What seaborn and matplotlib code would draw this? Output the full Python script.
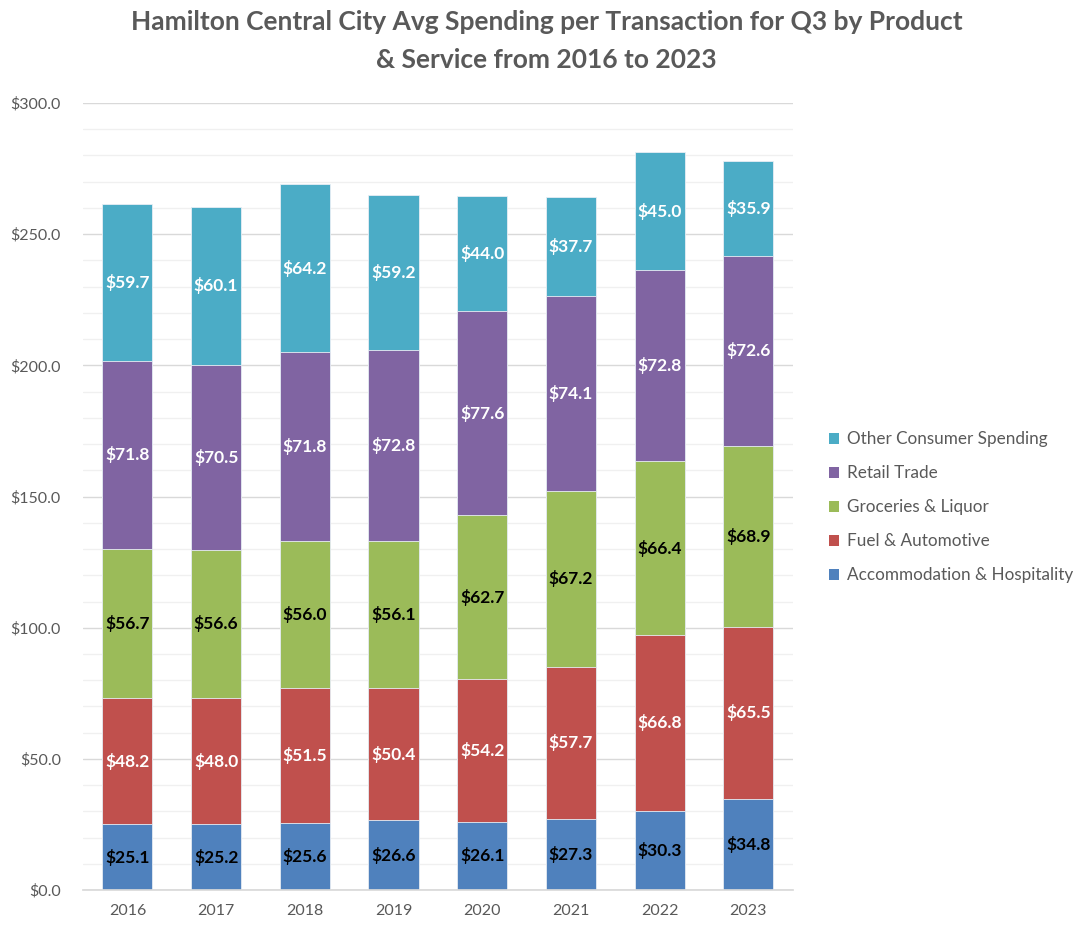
import matplotlib
matplotlib.use("Agg")
import matplotlib.pyplot as plt
from matplotlib.ticker import MultipleLocator, FuncFormatter
from matplotlib.patches import Patch
import seaborn as sns
import pandas as pd
import numpy as np

years = ["2016", "2017", "2018", "2019", "2020", "2021", "2022", "2023"]
categories = ["Accommodation & Hospitality", "Fuel & Automotive", "Groceries & Liquor",
              "Retail Trade", "Other Consumer Spending"]
accommodation = [25.1, 25.2, 25.6, 26.6, 26.1, 27.3, 30.3, 34.8]
fuel = [48.2, 48.0, 51.5, 50.4, 54.2, 57.7, 66.8, 65.5]
groceries = [56.7, 56.6, 56.0, 56.1, 62.7, 67.2, 66.4, 68.9]
retail = [71.8, 70.5, 71.8, 72.8, 77.6, 74.1, 72.8, 72.6]
other = [59.7, 60.1, 64.2, 59.2, 44.0, 37.7, 45.0, 35.9]

colors = ["#4F81BD", "#C0504D", "#9BBB59", "#8064A2", "#4BACC6"]
label_colors = ["black", "white", "black", "white", "white"]

series = [accommodation, fuel, groceries, retail, other]
df = pd.DataFrame({c: v for c, v in zip(categories, series)}, index=years)
cum = df.cumsum(axis=1)

sns.set_theme(style="white")
plt.rcParams["font.family"] = ["Lato", "DejaVu Sans"]

fig = plt.figure(figsize=(10.8, 9.36), dpi=100)
ax = fig.add_axes([0.0769, 0.049, 0.657, 0.841])

# grid
ax.yaxis.set_major_locator(MultipleLocator(50))
ax.yaxis.set_minor_locator(MultipleLocator(10))
ax.grid(which="minor", axis="y", color="#F0F0F0", linewidth=1.0)
ax.grid(which="major", axis="y", color="#D9D9D9", linewidth=1.0)
ax.set_axisbelow(True)

# stacked bars: draw cumulative totals from top category down
for i in range(len(categories) - 1, -1, -1):
    cat = categories[i]
    d = pd.DataFrame({"year": years, "value": cum[cat].values})
    sns.barplot(data=d, x="year", y="value", color=colors[i], saturation=1,
                width=0.565, linewidth=0.6, edgecolor="#E8EEF5", ax=ax, zorder=2)

# data labels
for i, cat in enumerate(categories):
    bottoms = (cum[cat] - df[cat]).values
    for j, v in enumerate(df[cat].values):
        ax.text(j, bottoms[j] + v / 2, f"${v:.1f}", ha="center", va="center",
                color=label_colors[i], fontsize=12.5, fontweight="bold", zorder=5)

ax.set_xlim(-0.5, 7.5)
ax.set_ylim(0, 300)
ax.yaxis.set_major_formatter(FuncFormatter(lambda v, p: f"${v:.1f}"))
ax.set_xlabel("")
ax.set_ylabel("")
for s in ["top", "right", "left"]:
    ax.spines[s].set_visible(False)
ax.spines["bottom"].set_color("#D9D9D9")
ax.tick_params(axis="both", which="both", length=0, colors="#595959", labelsize=11.5)
ax.tick_params(axis="y", pad=16)
ax.tick_params(axis="x", pad=10)

# legend (reversed order)
handles = [Patch(facecolor=colors[i], edgecolor="none") for i in range(len(categories) - 1, -1, -1)]
labels = [categories[i] for i in range(len(categories) - 1, -1, -1)]
leg = fig.legend(handles, labels, loc="center left", bbox_to_anchor=(0.753, 0.458),
                 frameon=False, fontsize=12.3, handlelength=0.6, handleheight=0.6,
                 handletextpad=0.5, labelspacing=1.05, labelcolor="#595959")

fig.text(0.506, 0.976, "Hamilton Central City Avg Spending per Transaction for Q3 by Product",
         ha="center", va="center", fontsize=19, fontweight="bold", color="#595959")
fig.text(0.506, 0.936, "& Service from 2016 to 2023",
         ha="center", va="center", fontsize=19, fontweight="bold", color="#595959")

fig.savefig("out.png", dpi=100)
